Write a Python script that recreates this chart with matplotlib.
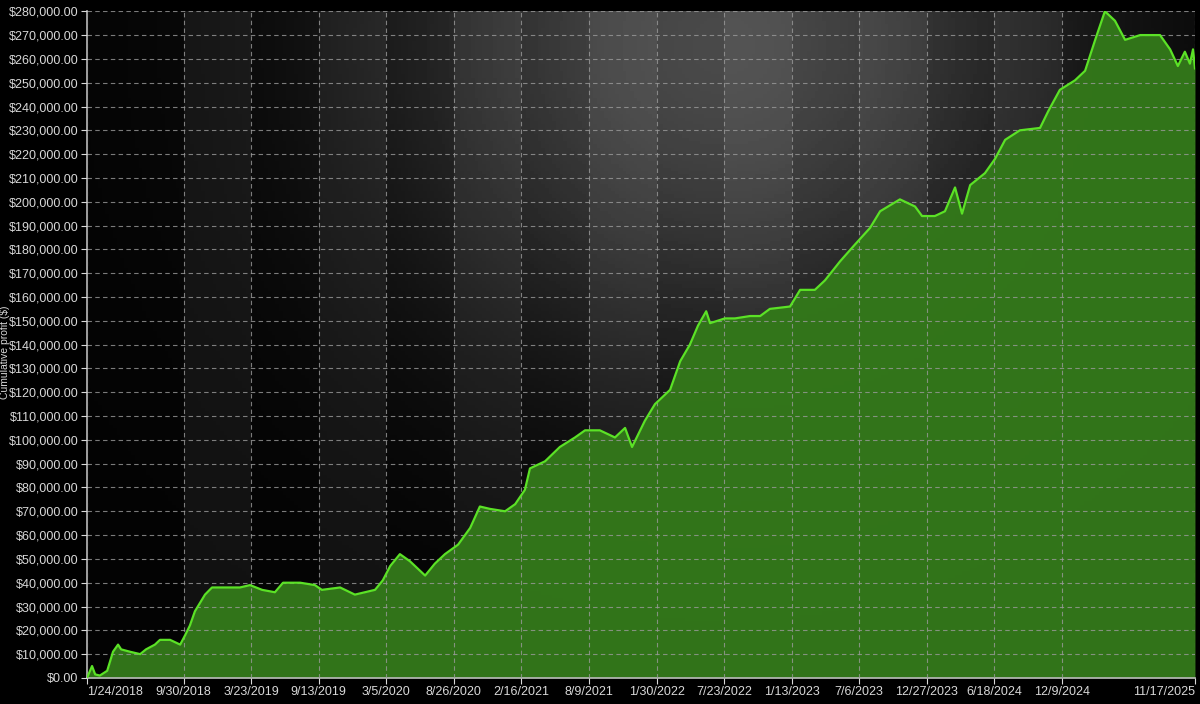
import numpy as np
import pandas as pd
import matplotlib.pyplot as plt
import matplotlib.dates as mdates
from matplotlib.ticker import FuncFormatter

plt.rcParams['font.family'] = ['Liberation Sans', 'DejaVu Sans']

start = pd.Timestamp("2018-01-24")

# days since start, cumulative profit in thousands of $
days = [0, 13, 21, 33, 52, 67, 80, 88, 111, 137, 152, 175, 188, 214, 240, 253, 265, 278,
        304, 322, 355, 394, 420, 451, 484, 505, 549, 587, 605, 652, 690, 742, 762, 781,
        806, 832, 871, 896, 922, 956, 987, 1012, 1038, 1077, 1103, 1128, 1141, 1180, 1218,
        1257, 1283, 1321, 1360, 1386, 1404, 1437, 1463, 1502, 1528, 1553, 1574, 1595, 1605,
        1643, 1669, 1708, 1734, 1759, 1811, 1837, 1875, 1901, 1940, 1978, 2017, 2043, 2094,
        2133, 2151, 2184, 2210, 2236, 2254, 2275, 2313, 2339, 2365, 2403, 2455, 2476, 2506,
        2545, 2571, 2597, 2622, 2648, 2674, 2713, 2764, 2790, 2810, 2828, 2841, 2849, 2854]
profit_k = [0, 5, 1.5, 1, 3, 11, 14, 12, 11, 10, 12, 14, 16, 16, 14, 18, 22, 28,
            35, 38, 38, 38, 39, 37, 36, 40, 40, 39, 37, 38, 35, 37, 41, 47,
            52, 49, 43, 48, 52, 56, 63, 72, 71, 70, 73, 79, 88, 91, 97,
            101, 104, 104, 101, 105, 97, 108, 115, 121, 133, 140, 148, 154, 149,
            151, 151, 152, 152, 155, 156, 163, 163, 167, 175, 182, 189, 196,
            201, 198, 194, 194, 196, 206, 195, 207, 212, 218, 226, 230, 231, 238,
            247, 251, 255, 268, 280, 276, 268, 270, 270, 264, 257, 263, 258, 264, 256]

tick_dates = ["1/24/2018", "9/30/2018", "3/23/2019", "9/13/2019", "3/5/2020", "8/26/2020",
              "2/16/2021", "8/9/2021", "1/30/2022", "7/23/2022", "1/13/2023", "7/6/2023",
              "12/27/2023", "6/18/2024", "12/9/2024", "11/17/2025"]

dates = start + pd.to_timedelta(days, unit="D")
profit = np.array(profit_k) * 1000
ticks = pd.to_datetime(tick_dates, format="%m/%d/%Y")

fig = plt.figure(figsize=(12, 7.04), dpi=100, facecolor="black")
ax = fig.add_axes([0.0725, 0.037, 0.9233, 0.947])
ax.set_facecolor("#050505")

x0, x1 = mdates.date2num(ticks[0]), mdates.date2num(ticks[-1])
# soft radial glow in the background
gx, gy = np.meshgrid(np.linspace(-1, 1, 300), np.linspace(-1, 1, 200))
glow = np.exp(-((gx - 0.15) ** 2 / 0.35 + (gy - 0.9) ** 2 / 0.9))
ax.imshow(glow, extent=[x0, x1, 0, 280000], origin="lower", aspect="auto",
          cmap="gray", vmin=-0.05, vmax=3.6, zorder=0)
# alternating vertical bands
tnum = mdates.date2num(ticks)
for i in range(1, len(tnum) - 1, 2):
    ax.axvspan(tnum[i], tnum[i + 1], color="white", alpha=0.06, lw=0, zorder=1)

ax.fill_between(dates, profit, 0, color="#33781a", alpha=0.97, zorder=2, lw=0)
ax.plot(dates, profit, color="#5be226", lw=1.6, zorder=4)

ax.set_xlim(x0, x1)
ax.set_ylim(0, 280000)
ax.set_yticks(np.arange(0, 280001, 10000))
ax.yaxis.set_major_formatter(FuncFormatter(lambda v, p: f"${v:,.2f}"))
ax.set_xticks(ticks)
ax.set_xticklabels(tick_dates)
xl = ax.get_xticklabels()
xl[0].set_ha("left")
xl[-1].set_ha("right")
ax.grid(True, color="#9a9a9a", ls=(0, (4, 3)), lw=0.8, alpha=0.8, zorder=3)
ax.set_axisbelow(False)

ax.tick_params(colors="#d8d8d8", labelsize=9, length=4, pad=2)
for s in ["top", "right"]:
    ax.spines[s].set_visible(False)
for s in ["left", "bottom"]:
    ax.spines[s].set_color("#bbbbbb")
    ax.spines[s].set_linewidth(1.2)
fig.text(0.0, 0.5, "Cumulative profit ($)", color="#d8d8d8", fontsize=7.5,
         rotation=90, va="center", ha="left")

fig.savefig("out.png", facecolor="black")
